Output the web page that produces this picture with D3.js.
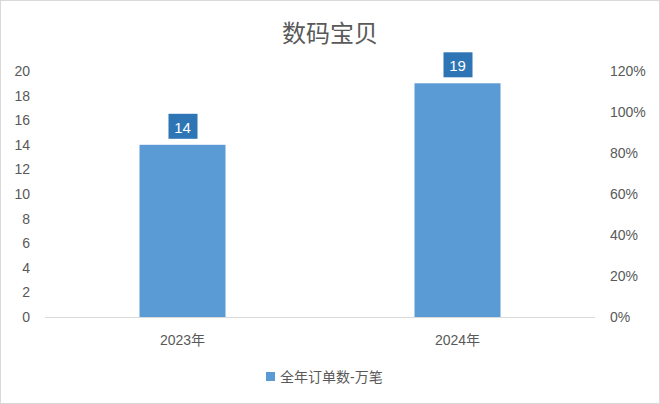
<!DOCTYPE html>
<html>
<head>
<meta charset="UTF-8">
<script src="https://d3js.org/d3.v7.min.js"></script>
<style>
body{margin:0;background:#fff;}
text{font-family:"Liberation Sans","Noto Sans CJK SC",sans-serif;}
</style>
</head>
<body>
<div id="chart"></div>
<script>
var categories = ["2023年", "2024年"];
var orders = [14, 19];
var leftTicks = [0, 2, 4, 6, 8, 10, 12, 14, 16, 18, 20];
var rightTicks = [0, 0.2, 0.4, 0.6, 0.8, 1.0, 1.2];
var seriesName = "全年订单数-万笔";
var title = "数码宝贝";

var W = 660, H = 404;
var padL = 45, padR = 595, plotTop = 71, plotBottom = 317;

var svg = d3.select("#chart").append("svg").attr("width", W).attr("height", H);
svg.append("rect").attr("x", 0.5).attr("y", 0.5).attr("width", W - 1).attr("height", H - 1)
   .attr("fill", "#fff").attr("stroke", "#d9d9d9");

var x = d3.scaleBand().domain(categories).range([padL, padR]);
var y = d3.scaleLinear().domain([0, 20]).range([plotBottom, plotTop]);
var y2 = d3.scaleLinear().domain([0, 1.2]).range([plotBottom, plotTop]);

svg.append("text").attr("x", 330).attr("y", 42).attr("text-anchor", "middle")
   .attr("font-size", 24).attr("fill", "#595959").text(title);

// left axis
var ga = svg.append("g").attr("transform", "translate(" + padL + ",0)")
   .call(d3.axisLeft(y).tickValues(leftTicks).tickSize(0).tickPadding(15));
ga.select(".domain").remove();
ga.selectAll("text").attr("font-size", 14).attr("fill", "#595959")
   .style("font-family", "Liberation Sans, sans-serif");

// right axis
var gr = svg.append("g").attr("transform", "translate(" + (padR + 15) + ",0)")
   .call(d3.axisRight(y2).tickValues(rightTicks).tickSize(0).tickPadding(0).tickFormat(d3.format(".0%")));
gr.select(".domain").remove();
gr.selectAll("text").attr("font-size", 14).attr("fill", "#595959")
   .style("font-family", "Liberation Sans, sans-serif");

// baseline
svg.append("line").attr("x1", padL).attr("x2", padR).attr("y1", plotBottom + 0.5).attr("y2", plotBottom + 0.5)
   .attr("stroke", "#d9d9d9");

var bw = 86;
svg.selectAll("rect.bar").data(orders).enter().append("rect").attr("class", "bar")
   .attr("x", function(d, i){ return x(categories[i]) + x.bandwidth() / 2 - bw / 2; })
   .attr("y", function(d){ return y(d); })
   .attr("width", bw)
   .attr("height", function(d){ return plotBottom - y(d); })
   .attr("fill", "#5b9bd5");

// data labels
var lb = svg.selectAll("g.lbl").data(orders).enter().append("g").attr("class", "lbl")
   .attr("transform", function(d, i){ return "translate(" + (x(categories[i]) + x.bandwidth() / 2) + "," + (y(d) - 18) + ")"; });
lb.append("rect").attr("x", -14).attr("y", -13).attr("width", 29).attr("height", 25).attr("fill", "#2e75b6");
lb.append("text").attr("text-anchor", "middle").attr("y", 6).attr("font-size", 15).attr("fill", "#fff")
   .text(function(d){ return d; });

// category labels
svg.selectAll("text.cat").data(categories).enter().append("text").attr("class", "cat")
   .attr("x", function(d){ return x(d) + x.bandwidth() / 2; }).attr("y", 345)
   .attr("text-anchor", "middle").attr("font-size", 14).attr("fill", "#595959").text(function(d){ return d; });

// legend
svg.append("rect").attr("x", 266).attr("y", 372).attr("width", 9).attr("height", 9).attr("fill", "#5b9bd5");
svg.append("text").attr("x", 280).attr("y", 382).attr("font-size", 14).attr("fill", "#595959").text(seriesName);
</script>
</body>
</html>
